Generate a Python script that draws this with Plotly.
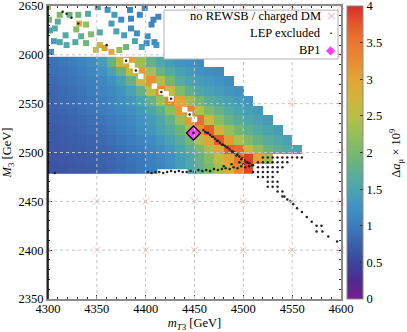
import plotly.graph_objects as go

# --- data ------------------------------------------------------------------

# dense scan: cell centres (GeV)
mT3_cells = [4305, 4315, 4325, 4335, 4345, 4355, 4365, 4375, 4385, 4395,
             4405, 4415, 4425, 4435, 4445, 4455, 4465, 4475, 4485, 4495,
             4505, 4515, 4525, 4535, 4545, 4555, 4565]
M3_cells = [2483, 2493, 2503, 2513, 2523, 2533, 2543, 2553, 2563, 2573, 2583, 2593]

# Delta a_mu x 1e9, one list per M3 row (bottom -> top), starting at mT3 = 4305
damu_2483 = [0.64, 0.66, 0.68, 0.70, 0.73, 0.76, 0.80, 0.84, 0.89, 0.95, 1.02, 1.10,
             1.22, 1.38, 1.55, 1.75, 2.0, 2.35, 2.8, 3.3, 3.85]
damu_2493 = [0.66, 0.68, 0.70, 0.72, 0.75, 0.78, 0.82, 0.86, 0.91, 0.97, 1.04, 1.12,
             1.23, 1.37, 1.55, 1.8, 2.1, 2.5, 3.0, 3.5, 3.9, 3.0, 2.3]
damu_2503 = [0.68, 0.70, 0.72, 0.74, 0.77, 0.80, 0.84, 0.89, 0.95, 1.02, 1.10, 1.20,
             1.33, 1.5, 1.72, 2.0, 2.4, 2.95, 3.7, 3.6, 2.7, 2.2, 1.9, 1.72, 1.6, 1.5]
damu_2513 = [0.70, 0.72, 0.74, 0.77, 0.80, 0.84, 0.89, 0.95, 1.02, 1.10, 1.20, 1.32,
             1.47, 1.67, 1.95, 2.4, 3.0, 3.75, 3.1, 2.4, 2.05, 1.82, 1.65, 1.55, 1.45]
damu_2523 = [0.72, 0.74, 0.77, 0.80, 0.84, 0.89, 0.95, 1.02, 1.10, 1.20, 1.32, 1.47,
             1.65, 1.9, 2.35, 3.2, 3.7, 2.85, 2.25, 1.95, 1.75, 1.6, 1.5, 1.42]
damu_2533 = [0.75, 0.77, 0.80, 0.84, 0.88, 0.93, 0.99, 1.06, 1.14, 1.25, 1.38, 1.55,
             1.8, 2.25, 3.1, 3.6, 2.7, 2.15, 1.85, 1.68, 1.55, 1.45, 1.38]
damu_2543 = [0.78, 0.80, 0.84, 0.88, 0.93, 0.98, 1.05, 1.12, 1.22, 1.35, 1.5, 1.75,
             2.2, 3.1, 3.4, 2.5, 2.05, 1.8, 1.62, 1.5, 1.42, 1.35]
damu_2553 = [0.80, 0.83, 0.87, 0.91, 0.96, 1.02, 1.10, 1.20, 1.32, 1.5, 1.8, 2.3,
             3.3, 3.0, 2.3, 1.95, 1.7, 1.55, 1.45, 1.38, 1.3]
damu_2563 = [0.82, 0.85, 0.90, 0.95, 1.0, 1.07, 1.15, 1.28, 1.45, 1.8, 2.5, 3.3,
             2.6, 2.05, 1.75, 1.55, 1.45, 1.37, 1.3, 1.25]
damu_2573 = [0.85, 0.88, 0.93, 0.98, 1.05, 1.13, 1.25, 1.45, 1.85, 2.6, 3.2, 2.45,
             1.95, 1.65, 1.5, 1.4, 1.32, 1.25, 1.2]
damu_2583 = [0.88, 0.92, 0.97, 1.03, 1.12, 1.25, 1.45, 1.85, 2.6, 3.1, 2.35, 1.85,
             1.6, 1.45, 1.35, 1.28, 1.22, 1.18]
damu_2593 = [0.90, 0.95, 1.0, 1.1, 1.2, 1.4, 1.8, 2.6, 3.0, 2.3, 1.8, 1.55,
             1.4, 1.3, 1.25, 1.2]

# sparse scan above M3 = 2600
sparse_mT3 = [4300, 4312, 4310, 4307, 4306, 4312, 4319, 4303, 4322, 4331,
              4332, 4329, 4339, 4341, 4351, 4334, 4344, 4353, 4328, 4339,
              4353, 4358, 4349, 4365, 4373, 4361, 4368, 4365, 4375, 4370,
              4378, 4385, 4384, 4394, 4399, 4389, 4380, 4396, 4402, 4406,
              4413, 4411, 4391, 4385, 4408, 4401, 4409, 4301, 4302, 4318]
sparse_M3 = [2649, 2641, 2634, 2627, 2614, 2613, 2610, 2603, 2641, 2641,
             2632, 2626, 2631, 2642, 2649, 2619, 2621, 2623, 2613, 2612,
             2610, 2607, 2605, 2603, 2605, 2646, 2641, 2632, 2636, 2624,
             2620, 2627, 2646, 2641, 2648, 2614, 2608, 2608, 2619, 2631,
             2639, 2610, 2622, 2637, 2636, 2612, 2613, 2636, 2625, 2620]
sparse_damu = [2.3, 2.0, 1.7, 1.6, 1.4, 1.5, 1.6, 1.2, 1.9, 1.9,
               2.8, 2.1, 2.2, 1.6, 1.4, 1.7, 2.1, 1.6, 1.6, 1.9,
               2.8, 3.1, 2.5, 2.9, 2.2, 1.3, 1.4, 1.4, 1.2, 1.5,
               1.4, 1.2, 1.1, 1.1, 1.1, 1.5, 1.9, 1.5, 1.2, 1.1,
               1.1, 1.3, 1.2, 1.1, 1.1, 1.2, 1.2, 2.0, 1.5, 1.6]

# points without a result (white cells)
nores_mT3 = [4380, 4386, 4390, 4395, 4409, 4416, 4421, 4426, 4440, 4445, 4450,
             4415, 4420, 4425, 4430, 4435, 4440]
nores_M3 = [2594, 2589, 2584, 2578, 2568, 2562, 2560, 2555, 2544, 2539, 2534,
            2480, 2480, 2480, 2480, 2480, 2480]

# no REWSB / charged DM (coarse grid)
norewsb_mT3 = [4300, 4350, 4400, 4450, 4500, 4550, 4600,
               4300, 4350, 4400, 4450, 4500, 4550, 4600,
               4600, 4550, 4600, 4500, 4550, 4600,
               4400, 4450, 4500, 4550, 4600]
norewsb_M3 = [2400, 2400, 2400, 2400, 2400, 2400, 2400,
              2450, 2450, 2450, 2450, 2450, 2450, 2450,
              2500, 2550, 2550, 2600, 2600, 2600,
              2650, 2650, 2650, 2650, 2650]

# LEP excluded
lep_mT3 = [
    # ridge
    4459, 4461, 4464, 4466, 4469, 4471, 4474, 4476, 4479, 4481, 4484, 4486, 4489,
    4491, 4494, 4496, 4499, 4501, 4504, 4506, 4509, 4463, 4468, 4473, 4478, 4483,
    4488, 4493, 4498, 4503,
    # bottom edge
    4307, 4402, 4406, 4410, 4414, 4418, 4422, 4426, 4430, 4434, 4438, 4442, 4446,
    4450, 4454, 4458, 4462, 4466, 4470, 4474, 4478, 4482, 4486, 4490, 4494, 4498,
    4502, 4506, 4510, 4480, 4488, 4496, 4500,
    # block below the scan edge
    4520, 4525, 4530, 4535, 4540, 4545, 4550, 4555, 4560,
    4515, 4520, 4525, 4530, 4535, 4540, 4545,
    4515, 4520, 4525, 4530, 4535, 4540,
    4510, 4515, 4520, 4525, 4530, 4535,
    4515, 4520, 4525, 4530,
    4525, 4530, 4535,
    4525, 4530, 4535,
    4535, 4540,
    4540, 4542,
    # tail
    4545, 4548, 4551, 4555, 4560, 4565, 4570, 4575, 4580, 4575, 4581, 4587, 4596,
    # isolated
    4315, 4319, 4324, 4331, 4360, 4380, 4390, 4416, 4426, 4445, 4449]
lep_M3 = [
    2523, 2521, 2520, 2518, 2516, 2514, 2512, 2510, 2508, 2507, 2505, 2503, 2501,
    2500, 2498, 2496, 2494, 2492, 2490, 2489, 2487, 2520, 2516, 2512, 2508, 2505,
    2501, 2497, 2493, 2490,
    2479, 2480, 2479, 2480, 2480, 2479, 2480, 2481, 2480, 2481, 2480, 2480, 2481,
    2480, 2482, 2481, 2482, 2481, 2483, 2482, 2483, 2484, 2483, 2485, 2484, 2486,
    2485, 2486, 2487, 2486, 2488, 2490, 2488,
    2495, 2495, 2495, 2495, 2495, 2495, 2495, 2495, 2495,
    2490, 2490, 2490, 2490, 2490, 2490, 2490,
    2485, 2485, 2485, 2485, 2485, 2485,
    2480, 2480, 2480, 2480, 2480, 2480,
    2475, 2475, 2475, 2475,
    2470, 2470, 2470,
    2465, 2465, 2465,
    2460, 2460,
    2455, 2455,
    2452, 2450, 2447, 2443, 2439, 2434, 2429, 2425, 2425, 2419, 2419, 2414, 2409,
    2644, 2642, 2638, 2632, 2610, 2594, 2584, 2562, 2555, 2539, 2520]

bp1_mT3 = [4449]
bp1_M3 = [2520]

x_ticks = [4300, 4350, 4400, 4450, 4500, 4550, 4600]
y_ticks = [2350, 2400, 2450, 2500, 2550, 2600, 2650]
cb_ticks = [0, 0.5, 1, 1.5, 2, 2.5, 3, 3.5, 4]
cb_labels = ["0", "0.5", "1", "1.5", "2", "2.5", "3", "3.5", "4"]

# --- figure ----------------------------------------------------------------

FONT = "Liberation Serif"

colorscale = [
    [0.0, "#781e8c"], [0.0625, "#4d2a8e"], [0.125, "#3c469b"], [0.1875, "#3c5faa"],
    [0.25, "#3c7dbe"], [0.3125, "#4191c3"], [0.375, "#4ba5af"], [0.4375, "#5faf91"],
    [0.5, "#78b96e"], [0.5625, "#96be5a"], [0.625, "#b9be46"], [0.6875, "#d2b43c"],
    [0.75, "#e1a537"], [0.8125, "#e88c32"], [0.875, "#eb7830"], [0.9375, "#e45a2d"],
    [1.0, "#d72d28"],
]

rows = [damu_2483, damu_2493, damu_2503, damu_2513, damu_2523, damu_2533,
        damu_2543, damu_2553, damu_2563, damu_2573, damu_2583, damu_2593]
z = [r + [None] * (len(mT3_cells) - len(r)) for r in rows]

fig = go.Figure()
fig.add_trace(go.Heatmap(x=mT3_cells, y=M3_cells, z=z, coloraxis="coloraxis",
                         hoverongaps=False))
fig.add_trace(go.Scatter(
    x=sparse_mT3, y=sparse_M3, mode="markers",
    marker=dict(symbol="square", size=6, color=sparse_damu, coloraxis="coloraxis",
                line=dict(width=0)),
))
fig.add_trace(go.Scatter(
    x=norewsb_mT3, y=norewsb_M3, mode="markers", cliponaxis=False,
    marker=dict(symbol="x-thin", size=7,
                line=dict(color="rgba(240,120,120,0.45)", width=1)),
))
fig.add_trace(go.Scatter(
    x=nores_mT3, y=nores_M3, mode="markers",
    marker=dict(symbol="square", size=5.5, color="white", line=dict(width=0)),
))
fig.add_trace(go.Scatter(
    x=lep_mT3, y=lep_M3, mode="markers",
    marker=dict(symbol="circle", size=2.5, color="#222222", line=dict(width=0)),
))
fig.add_trace(go.Scatter(
    x=bp1_mT3, y=bp1_M3, mode="markers",
    marker=dict(symbol="diamond", size=11, color="#ff3cff",
                line=dict(color="black", width=1.2)),
))
fig.add_trace(go.Scatter(
    x=bp1_mT3, y=bp1_M3, mode="markers",
    marker=dict(symbol="circle", size=2.5, color="#222222"),
))

# grid drawn on top of the map, as in the original
shapes = []
for v in x_ticks[1:-1]:
    shapes.append(dict(type="line", xref="x", yref="y domain", x0=v, x1=v, y0=0, y1=1,
                       line=dict(color="#c4c4c4", width=1, dash="dot"), layer="above"))
for v in y_ticks[1:-1]:
    shapes.append(dict(type="line", xref="x domain", yref="y", x0=0, x1=1, y0=v, y1=v,
                       line=dict(color="#c4c4c4", width=1, dash="dot"), layer="above"))
shapes.append(dict(type="line", xref="paper", yref="paper", x0=0, x1=0, y0=0, y1=1,
                   line=dict(color="black", width=1.5), layer="above"))
# legend box
shapes.append(dict(type="rect", xref="paper", yref="paper",
                   x0=0.396, x1=0.990, y0=0.819, y1=0.986,
                   fillcolor="white", line=dict(color="#b0b0b0", width=1), layer="above"))

legend_rows = [("no REWSB / charged DM", "×", "rgba(240,140,140,0.6)", 13, 0.966),
               ("LEP excluded", "·", "#222222", 13, 0.907),
               ("BP1", "◆", "#ff3cff", 12, 0.850)]
annotations = []
for label, sym, col, sz, yy in legend_rows:
    annotations.append(dict(xref="paper", yref="paper", x=0.940, y=yy, text=label,
                            showarrow=False, xanchor="right", yanchor="middle",
                            font=dict(family=FONT, size=12.5, color="black")))
    annotations.append(dict(xref="paper", yref="paper", x=0.966, y=yy, text=sym,
                            showarrow=False, xanchor="center", yanchor="middle",
                            font=dict(family="DejaVu Sans", size=sz, color=col)))
# colour bar title
annotations.append(dict(xref="paper", yref="paper", x=1.185, y=0.5,
                        text="Δ<i>a</i><sub>μ</sub> × 10<sup>9</sup>", textangle=-90,
                        showarrow=False, xanchor="center", yanchor="middle",
                        font=dict(family=FONT, size=12.5, color="black")))

axis_common = dict(
    ticks="inside", ticklen=4, tickwidth=1, tickcolor="#333333",
    mirror="allticks", showline=True, linecolor="#8a8a8a", linewidth=2,
    showgrid=False, zeroline=False, automargin=False, ticklabeloverflow="allow",
    tickfont=dict(family=FONT, size=12.5, color="black"),
)

fig.update_layout(
    width=407, height=332,
    margin=dict(l=48, r=66, t=6, b=33, autoexpand=False),
    plot_bgcolor="white", paper_bgcolor="white",
    font=dict(family=FONT, size=12.5, color="black"),
    showlegend=False,
    shapes=shapes, annotations=annotations,
    xaxis=dict(range=[4300, 4600], tickvals=x_ticks, ticklabelstandoff=-3,
               minor=dict(dtick=10, ticks="inside", ticklen=2, tickcolor="#333333"),
               title=dict(text="<i>m</i><sub><i>T</i>3</sub> [GeV]", standoff=3,
                          font=dict(family=FONT, size=12.5)),
               **axis_common),
    yaxis=dict(range=[2350, 2650], tickvals=y_ticks,
               minor=dict(dtick=10, ticks="inside", ticklen=2, tickcolor="#333333"),
               title=dict(text="<i>M</i><sub>3</sub> [GeV]", standoff=4,
                          font=dict(family=FONT, size=12.5)),
               **axis_common),
    coloraxis=dict(
        cmin=0, cmax=4, colorscale=colorscale,
        colorbar=dict(
            x=1.0205, xanchor="left", y=0.5, yanchor="middle", len=1, lenmode="fraction",
            thickness=16, outlinecolor="#8a8a8a", outlinewidth=1, xpad=0, ypad=0,
            tickvals=cb_ticks, ticktext=cb_labels, ticklabeloverflow="allow",
            ticks="inside", ticklen=3, tickcolor="#333333",
            tickfont=dict(family=FONT, size=12.5, color="black"),
        ),
    ),
)

fig.write_html("out.html", config={"displayModeBar": False},
               post_script="document.body.style.margin='0';")
